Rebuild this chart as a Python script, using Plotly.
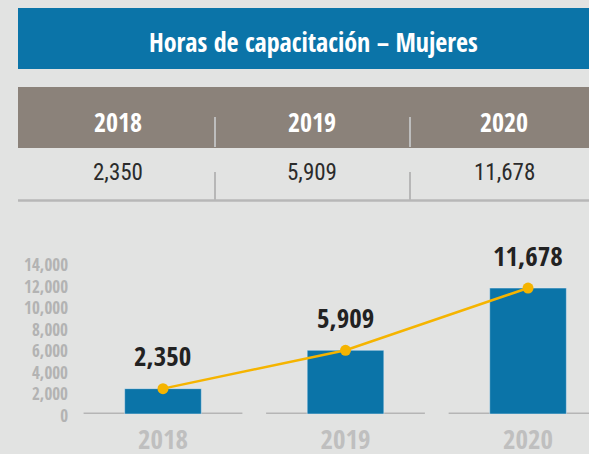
import plotly.graph_objects as go

years = ["2018", "2019", "2020"]
hours = [2350, 5909, 11678]
value_labels = ["2,350", "5,909", "11,678"]
title_text = "Horas de capacitación – Mujeres"
y_ticks = [0, 2000, 4000, 6000, 8000, 10000, 12000, 14000]
y_tick_text = ["0", "2,000", "4,000", "6,000", "8,000", "10,000", "12,000", "14,000"]

W, H = 589, 454
BG = "#e2e3e2"
BLUE = "#0b74a8"
BROWN = "#8b827a"
YELLOW = "#f5b400"
FONT_B = "Open Sans Condensed, Roboto Condensed, sans-serif"
FONT_R = "Roboto Condensed, sans-serif"

def py(p):
    return 1 - p / H

def px(p):
    return p / W

fig = go.Figure()
fig.add_trace(go.Bar(x=years, y=hours, marker_color=BLUE, width=0.42,
                     hoverinfo="skip", cliponaxis=False))
fig.add_trace(go.Scatter(x=years, y=hours, mode="lines+markers",
                         line=dict(color=YELLOW, width=2.5),
                         marker=dict(color=YELLOW, size=11),
                         hoverinfo="skip", cliponaxis=False))

shapes = []
shapes.append(dict(type="rect", xref="paper", yref="paper", x0=px(18), x1=1, y0=py(69), y1=py(8),
                   fillcolor=BLUE, line_width=0, layer="below"))
shapes.append(dict(type="rect", xref="paper", yref="paper", x0=px(18), x1=1, y0=py(148), y1=py(87),
                   fillcolor=BROWN, line_width=0, layer="below"))
shapes.append(dict(type="line", xref="paper", yref="paper", x0=px(18), x1=1, y0=py(200.5), y1=py(200.5),
                   line=dict(color="#b7b7b7", width=2.5), layer="below"))
for xd in (215, 410):
    shapes.append(dict(type="line", xref="paper", yref="paper", x0=px(xd), x1=px(xd), y0=py(147), y1=py(117),
                       line=dict(color="#bdbdbd", width=2), layer="above"))
    shapes.append(dict(type="line", xref="paper", yref="paper", x0=px(xd), x1=px(xd), y0=py(200), y1=py(172),
                       line=dict(color="#b7b7b7", width=2), layer="below"))
for i, _ in enumerate(years):
    shapes.append(dict(type="line", xref="x", yref="y", x0=i - 0.435, x1=i + 0.435, y0=0, y1=0,
                       line=dict(color="#b5b5b5", width=3), layer="below"))

annotations = []
annotations.append(dict(text="<b>%s</b>" % title_text, xref="paper", yref="paper", x=px(313), y=py(42),
                        showarrow=False, font=dict(family=FONT_B, size=26, color="white"),
                        xanchor="center", yanchor="middle"))
header_x = [118, 312, 504]
for i, yr in enumerate(years):
    annotations.append(dict(text="<b>%s</b>" % yr, xref="paper", yref="paper", x=px(header_x[i]), y=py(122),
                            showarrow=False, font=dict(family=FONT_B, size=26, color="white"),
                            xanchor="center", yanchor="middle"))
    annotations.append(dict(text=value_labels[i], xref="paper", yref="paper", x=px(header_x[i]), y=py(173),
                            showarrow=False, font=dict(family=FONT_R, size=23, color="#2b2b2b"),
                            xanchor="center", yanchor="middle"))
    annotations.append(dict(text="<b>%s</b>" % value_labels[i], xref="x", yref="y", x=i, y=hours[i],
                            yshift=33, showarrow=False, font=dict(family=FONT_B, size=27, color="#222222"),
                            xanchor="center", yanchor="middle"))

fig.update_layout(
    width=W, height=H, margin=dict(l=0, r=0, t=0, b=0, pad=0), autosize=False,
    paper_bgcolor=BG, plot_bgcolor="rgba(0,0,0,0)",
    showlegend=False, shapes=shapes, annotations=annotations,
    xaxis=dict(domain=[0, 1], range=[-0.893, 2.334], type="category", automargin=False,
               showgrid=False, zeroline=False, showline=False, ticks="",
               tickfont=dict(family=FONT_B, size=27, color="#bfbfbf", weight="bold"),
               ticklabelstandoff=7),
    yaxis=dict(domain=[py(414), py(263)], range=[0, 14000], anchor="free", position=px(68),
               automargin=False,
               tickvals=y_ticks, ticktext=y_tick_text,
               showgrid=False, zeroline=False, showline=False, ticks="",
               tickfont=dict(family=FONT_B, size=17, color="#b3b3b3", weight="bold"),
               ticklabelshift=2),
)

fig.write_html("out.html", config={"displayModeBar": False},
               post_script="document.body.style.margin='0';")
